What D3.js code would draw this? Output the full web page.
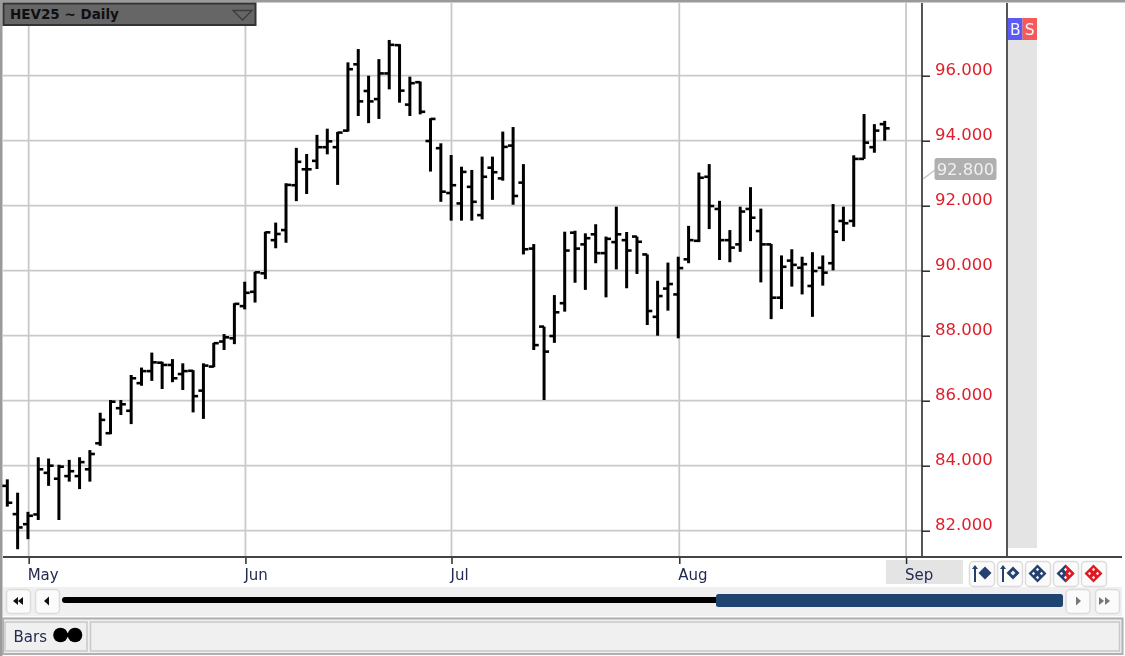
<!DOCTYPE html>
<html><head><meta charset="utf-8">
<script src="https://cdn.jsdelivr.net/npm/d3@7/dist/d3.min.js"></script>
<style>html,body{margin:0;padding:0;background:#fff;overflow:hidden}svg{display:block;filter:blur(0.35px)}text{font-family:"DejaVu Sans",sans-serif}</style>
</head><body><svg id="c" width="1125" height="656"></svg>
<script>
const title="HEV25 ~ Daily";
const highs=[83.58,83.17,82.58,84.26,84.22,84.03,84.18,84.26,84.48,85.63,86.02,86.02,86.79,87.02,87.48,87.20,87.28,87.15,86.94,87.15,87.78,88.05,89.00,89.66,89.97,91.20,91.48,92.69,93.78,93.59,94.18,94.37,94.27,96.41,96.82,96.00,96.51,97.10,96.97,95.97,95.82,94.69,93.92,93.56,93.20,93.10,93.51,93.51,94.28,94.42,93.28,90.82,88.28,89.25,91.20,91.23,91.15,91.43,91.05,91.97,91.19,91.05,90.50,89.69,90.25,90.43,91.38,93.02,93.28,92.15,91.25,91.97,92.57,91.91,90.82,90.47,90.66,90.43,90.57,90.47,92.05,91.97,93.55,94.82,94.51,94.61];
const lows=[82.74,81.43,81.74,82.33,83.38,82.33,83.51,83.28,83.51,84.61,84.97,85.56,85.28,86.46,86.61,86.36,86.57,86.33,85.64,85.44,87.03,87.56,87.74,88.81,89.02,89.74,90.69,90.86,92.14,92.36,93.13,93.58,92.64,94.28,94.76,94.54,94.67,95.58,95.17,94.76,94.81,93.05,92.12,91.54,91.54,91.54,91.58,92.18,92.77,92.03,90.50,87.56,86.02,87.78,88.74,89.63,89.41,90.23,89.18,90.04,89.46,89.90,88.33,88.00,88.77,87.92,90.23,90.88,91.28,90.33,90.26,90.58,90.91,89.64,88.51,88.82,89.51,89.27,88.58,89.54,90.01,90.91,91.35,93.44,93.63,94.00];
const opens=[83.38,82.51,82.20,82.50,83.78,83.60,83.68,83.68,83.89,84.69,85.00,85.77,85.69,86.54,86.91,87.17,87.10,86.82,86.92,86.31,87.05,87.82,87.92,88.91,89.35,89.92,90.94,91.25,92.63,93.12,93.38,93.80,93.80,94.31,96.35,95.53,95.28,96.07,96.94,95.11,95.80,93.99,93.77,92.39,92.07,92.58,91.71,93.17,92.84,93.85,92.71,90.68,88.28,87.99,89.00,91.17,90.81,91.12,90.54,90.88,90.94,91.05,90.50,88.58,89.45,89.27,90.35,90.92,92.89,91.90,90.94,90.81,91.90,91.22,90.81,89.17,90.31,90.09,89.53,90.09,90.23,91.53,91.53,93.44,93.80,94.51];
const closes=[82.86,82.10,82.46,83.89,84.00,83.97,83.83,84.11,84.36,85.41,85.97,85.89,86.69,86.91,87.18,87.10,86.69,86.91,86.14,87.08,87.77,87.95,88.98,89.32,89.95,91.18,91.13,92.64,93.35,93.12,93.80,93.98,94.25,96.20,95.21,95.21,96.07,96.95,95.54,95.77,94.89,94.67,92.43,92.63,93.04,92.12,92.89,93.03,93.81,92.30,90.66,87.71,87.51,88.72,90.62,90.68,91.00,90.54,90.98,91.12,90.62,90.89,88.76,89.22,89.59,90.08,90.94,92.86,91.99,90.94,90.71,91.82,91.63,90.81,89.17,90.12,90.18,90.20,89.99,89.94,91.20,91.46,93.44,93.94,94.31,94.38];
const monthLabels=["May","Jun","Jul","Aug","Sep"];
const monthBars=[2.07,23.07,43.03,65.1,87.07];
const priceTicks=[82,84,86,88,90,92,94,96];
const lastTag=92.8;

const svg=d3.select("#c");
const x=d3.scaleLinear().domain([0,85]).range([7.3,884.7]);
const y=d3.scaleLinear().domain([82,96]).range([530.7,75.7]);
const GRID="#c9c9c9",DARK="#2b2b2b",PANEL="#f0f0f0";
const R=(p,a,b,w,h,f,s,sw,r)=>p.append("rect").attr("x",a).attr("y",b).attr("width",w).attr("height",h).attr("fill",f).attr("stroke",s||"none").attr("stroke-width",sw||0).attr("rx",r||0);
const L=(p,a,b,c,d,s,w)=>p.append("line").attr("x1",a).attr("y1",b).attr("x2",c).attr("y2",d).attr("stroke",s).attr("stroke-width",w);

// frame
R(svg,0,0,1125,2.5,"#9a9a9a");
R(svg,0,0,2.5,656,"#9a9a9a");

// gridlines
svg.append("g").selectAll("line").data(priceTicks).join("line")
 .attr("x1",3).attr("x2",922).attr("y1",d=>y(d)).attr("y2",d=>y(d)).attr("stroke",GRID).attr("stroke-width",1.8);
svg.append("g").selectAll("line").data(monthBars).join("line")
 .attr("x1",d=>x(d)).attr("x2",d=>x(d)).attr("y1",3).attr("y2",557).attr("stroke",GRID).attr("stroke-width",1.8);

// OHLC bars
const idx=d3.range(highs.length);
const bars=svg.append("g").attr("stroke","#000").attr("fill","none");
bars.selectAll(".hl").data(idx).join("line").attr("x1",i=>x(i)).attr("x2",i=>x(i)).attr("y1",i=>y(highs[i])).attr("y2",i=>y(lows[i])).attr("stroke-width",3);
bars.selectAll(".o").data(idx).join("line").attr("x1",i=>x(i)-5).attr("x2",i=>x(i)).attr("y1",i=>y(opens[i])).attr("y2",i=>y(opens[i])).attr("stroke-width",2.6);
bars.selectAll(".c").data(idx).join("line").attr("x1",i=>x(i)).attr("x2",i=>x(i)+5).attr("y1",i=>y(closes[i])).attr("y2",i=>y(closes[i])).attr("stroke-width",2.6);

// title box
R(svg,3.5,3.5,252,21.5,"#666666","#333333",2);
svg.append("text").attr("x",10).attr("y",19).attr("font-size",13.5).attr("font-weight","bold").attr("fill","#0f0f14").text(title);
svg.append("path").attr("d","M233 10.5H252L242.5 20Z").attr("fill","none").attr("stroke","#3c3c3c").attr("stroke-width",1.3);

// sep label backing
R(svg,886,560,77,24,"#e4e4e4");

// price axis
const ya=svg.append("g").attr("transform","translate(922,0)").call(d3.axisRight(y).tickValues(priceTicks).tickSize(8).tickPadding(5).tickFormat(d3.format(".3f")));
ya.select(".domain").remove();
ya.selectAll("line").attr("stroke",DARK).attr("stroke-width",1.5);
ya.selectAll("text").attr("fill","#df1f2b").attr("font-size",16.5).attr("font-family",'"DejaVu Sans",sans-serif').attr("dy","0.32em").attr("y",-6.5);
L(svg,922,3,922,557,DARK,1.6);
L(svg,1007,3,1007,557,DARK,1.6);

// month axis
const xa=svg.append("g").attr("transform","translate(0,557)").call(d3.axisBottom(x).tickValues(monthBars).tickSize(7).tickPadding(3).tickFormat((d,i)=>monthLabels[i]));
xa.select(".domain").remove();
xa.selectAll("line").attr("stroke",DARK).attr("stroke-width",1.5);
xa.selectAll("text").attr("fill","#232b52").attr("font-size",15).attr("font-family",'"DejaVu Sans",sans-serif').attr("text-anchor","start").attr("dy",0).attr("x",-1.5).attr("y",23);
L(svg,3,557,1122,557,"#444",1.8);

// side strip
R(svg,1008,18,29,530,"#e4e4e4");
R(svg,1008,18,14.5,22,"#5a5af5");
R(svg,1022.5,18,14.5,22,"#f55a5a");
[["B",1015.2],["S",1029.7]].forEach(t=>svg.append("text").attr("x",t[1]).attr("y",35).attr("text-anchor","middle").attr("font-size",15.5).attr("fill","#f4f4ff").text(t[0]));

// last value tag
L(svg,923,179,935,170,"#c4c4c4",1.5);
R(svg,934.5,158,62,22,"#b0b0b0",null,0,2.5);
svg.append("text").attr("x",965.5).attr("y",175).attr("text-anchor","middle").attr("font-size",16.5).attr("fill","#f0f0f0").text(d3.format(".3f")(lastTag));

// scroll row
R(svg,3,587,1119,29,PANEL);
function btn(a,b,w,h){return R(svg,a+.5,b+.5,w,h,"#fbfbfb","#dcdcdc",1.5,4);}
btn(6,589,24,24);btn(35,589,24,24);btn(1065.5,589,24,24);btn(1095,589,24,24);
const P=(d,f)=>svg.append("path").attr("d",d).attr("fill",f);
P("M13 601l5-4v8zM18 601l5-4v8z","#111");
P("M44 601l5-4.5v9z","#111");
P("M1081 601l-5-4.5v9z","#777");
P("M1104 601l-5-4v8zM1110 601l-5-4v8z","#777");
svg.append("line").attr("x1",65).attr("x2",716).attr("y1",600).attr("y2",600).attr("stroke","#000").attr("stroke-width",6).attr("stroke-linecap","round");
R(svg,716,594,347,13,"#1f4470",null,0,2.5);

// flag buttons
const NAVY="#24406e",RED="#dd1a20";
[969,997,1025,1053,1081].forEach(a=>btn(a,561,25,25));
function dia(cx,cy,r,f){P(`M${cx} ${cy-r}L${cx+r} ${cy}L${cx} ${cy+r}L${cx-r} ${cy}Z`,f);}
function cross(cx,cy){[[0,-4],[4,0],[0,4],[-4,0]].forEach(o=>dia(cx+o[0],cy+o[1],1.7,"#f2f2f2"));}
L(svg,975,566,975,582,NAVY,2);P("M972 569l3-4 3 4z",NAVY);dia(985,573,6.5,NAVY);
L(svg,1003,566,1003,582,NAVY,2);P("M1000 569l3-4 3 4z",NAVY);dia(1013,573,6.5,NAVY);dia(1013,573,2.5,"#f2f2f2");
dia(1037.5,573.5,9,NAVY);cross(1037.5,573.5);
dia(1065.5,573.5,9,NAVY);P("M1065.5 564.5L1074.5 573.5L1065.5 582.5Z",RED);cross(1065.5,573.5);
dia(1093.5,573.5,9,RED);cross(1093.5,573.5);

// status row
R(svg,2.5,617,1120,37,PANEL);
svg.append("path").attr("d","M3 618.5H1122.5V654H3Z").attr("fill","none").attr("stroke","#b0b0b0").attr("stroke-width",2);
R(svg,5,622,82,29,PANEL,"#c8c8c8",1.5);
R(svg,90.5,622,1029,29,PANEL,"#c8c8c8",1.5);
svg.append("text").attr("x",13.5).attr("y",642).attr("font-size",15).attr("fill","#232b52").text("Bars");
svg.append("circle").attr("cx",60.5).attr("cy",635).attr("r",7.3).attr("fill","#000");
svg.append("circle").attr("cx",75).attr("cy",635).attr("r",7.3).attr("fill","#000");
L(svg,60,635,76,635,"#000",4);
</script></body></html>
